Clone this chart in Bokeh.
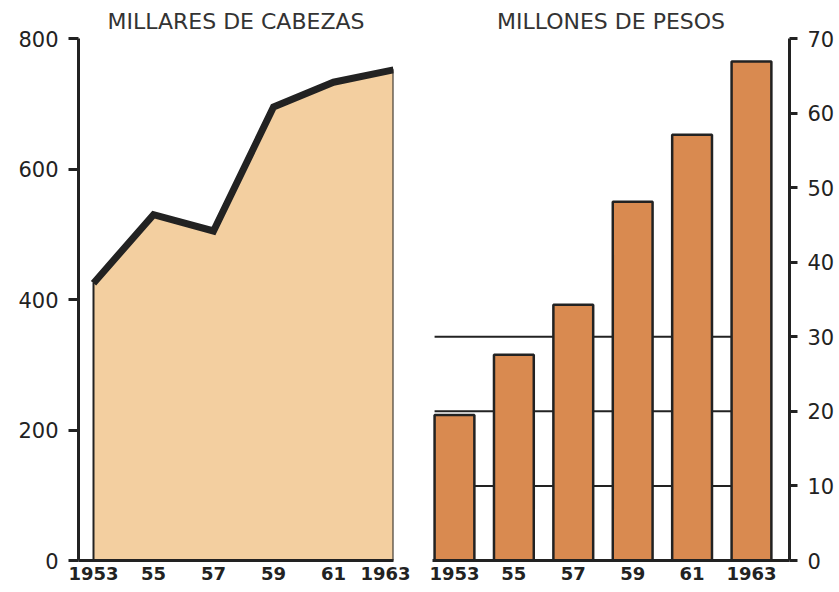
from bokeh.plotting import figure
from bokeh.layouts import row
from bokeh.models import FixedTicker, ColumnDataSource
from bokeh.embed import file_html
from bokeh.resources import INLINE

# ---- data ----
years = [1953, 1955, 1957, 1959, 1961, 1963]
year_labels = ["1953", "55", "57", "59", "61", "1963"]
cabezas = [425, 530, 505, 695, 733, 752]          # millares de cabezas
pesos = [19.5, 27.6, 34.3, 48.1, 57.1, 66.9]      # millones de pesos
left_ticks = [0, 200, 400, 600, 800]
right_ticks = [0, 10, 20, 30, 40, 50, 60, 70]
grid_levels = [10, 20, 30]

title_left = "MILLARES DE CABEZAS"
title_right = "MILLONES DE PESOS"

AREA = "#F3CFA0"
BAR = "#D98A50"
INK = "#222222"
FONT = "DejaVu Sans"

overrides = {y: lab for y, lab in zip(years, year_labels)}


def style_common(p):
    p.grid.visible = False
    p.outline_line_color = None
    p.background_fill_color = "white"
    p.border_fill_color = "white"
    p.title.text_font = FONT
    p.title.text_font_size = "22px"
    p.title.text_font_style = "normal"
    p.title.text_color = "#333333"
    p.title.align = "center"
    for ax in p.xaxis:
        ax.ticker = FixedTicker(ticks=years)
        ax.major_label_overrides = overrides
        ax.major_tick_line_color = None
        ax.major_tick_out = 0
        ax.major_tick_in = 0
        ax.minor_tick_line_color = None
        ax.minor_tick_out = 0
        ax.axis_line_color = INK
        ax.axis_line_width = 3
        ax.major_label_text_font = FONT
        ax.major_label_text_font_size = "18px"
        ax.major_label_text_font_style = "bold"
        ax.major_label_text_color = INK
        ax.major_label_standoff = 6
    for ax in p.yaxis:
        ax.minor_tick_line_color = None
        ax.axis_line_color = INK
        ax.axis_line_width = 3
        ax.major_tick_line_color = INK
        ax.major_tick_line_width = 3
        ax.major_tick_in = 0
        ax.major_label_text_font = FONT
        ax.major_label_text_font_size = "21px"
        ax.major_label_text_color = INK
        ax.major_label_standoff = 10


# ---- left panel: area ----
pl = figure(width=410, height=592, output_backend="svg", toolbar_location=None,
            x_range=(1952.5, 1963.0), y_range=(0, 800), title=title_left,
            min_border_left=78, min_border_right=17, min_border_top=38, min_border_bottom=30)
style_common(pl)
pl.yaxis.ticker = FixedTicker(ticks=left_ticks)
pl.yaxis.major_tick_out = 10

xs = years + [years[-1], years[0]]
ys = cabezas + [0, 0]
pl.patch(xs, ys, fill_color=AREA, line_color=INK, line_width=2)
pl.line(years, cabezas, line_color=INK, line_width=7, line_join="miter", line_cap="butt")

# ---- right panel: bars ----
bw = 1.34
pr = figure(width=427, height=592, output_backend="svg", toolbar_location=None,
            x_range=(1952.26, 1964.28), y_range=(0, 70), title=title_right,
            y_axis_location="right",
            min_border_left=22, min_border_right=47, min_border_top=35, min_border_bottom=32)
style_common(pr)
pr.yaxis.ticker = FixedTicker(ticks=right_ticks)
pr.yaxis.major_tick_out = 8

for g in grid_levels:
    x0 = years[0] + bw / 2 if g < pesos[0] else years[0] - bw / 2
    pr.segment(x0=[x0], y0=[g], x1=[years[-1] - bw / 2], y1=[g], line_color=INK, line_width=2)

src = ColumnDataSource(dict(x=years, top=pesos))
pr.vbar(x="x", top="top", width=bw, bottom=0, source=src,
        fill_color=BAR, line_color=INK, line_width=2.5)

layout = row(pl, pr)
open("out.html", "w").write(file_html(layout, INLINE))
